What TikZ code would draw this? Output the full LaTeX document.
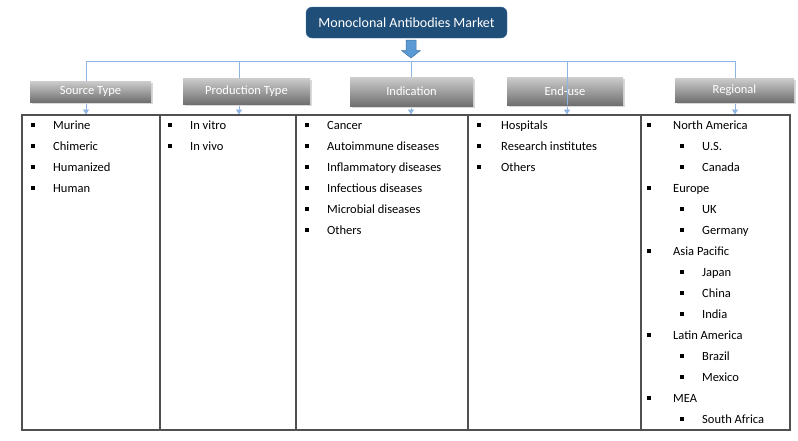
\documentclass[tikz,border=0pt]{standalone}
\usepackage{fontspec}
\setmainfont{Carlito}
\usetikzlibrary{arrows.meta}
\definecolor{titleblue}{RGB}{31,78,121}
\definecolor{arrowblue}{RGB}{91,155,213}
\definecolor{arrowedge}{RGB}{65,113,156}
\definecolor{linkblue}{RGB}{142,180,227}
\definecolor{gtop}{RGB}{205,205,205}
\definecolor{gbot}{RGB}{112,112,112}
\definecolor{tabline}{RGB}{80,80,80}
\tikzset{
  title/.style={draw=arrowedge, fill=titleblue, rounded corners=6pt, text=white, font=\fontsize{14}{16}\selectfont, minimum width=201pt, minimum height=31pt, inner sep=0pt},
  catbox/.style={top color=gtop, bottom color=gbot, draw=none, text=white, font=\fontsize{12.5}{14}\selectfont, inner sep=0pt},
  catshadow/.style={fill=black!15, draw=none},
  link/.style={draw=linkblue, line width=0.9pt},
  linkarrow/.style={link, -{Triangle[width=6pt,length=5pt]}},
  item/.style={anchor=base west, inner sep=0pt, font=\fontsize{12.5}{14}\selectfont},
  bul/.style={fill=black},
  tab/.style={draw=tabline, line width=1.4pt},
}
\begin{document}
\begin{tikzpicture}[x=1pt,y=-1pt]
\useasboundingbox (0,0) rectangle (798,440);
% title
\node[title] (title) at (406.5,22.5) {Monoclonal Antibodies Market};
% block arrow
\fill[arrowblue, draw=arrowedge, line width=0.5pt] (406,40) -- (416,40) -- (416,50.5) -- (420.5,50.5) -- (411,58) -- (401.5,50.5) -- (406,50.5) -- cycle;
% junction coordinates
\coordinate (j1) at (86,61);
\coordinate (j2) at (239,61);
\coordinate (j3) at (411,61);
\coordinate (j4) at (567,61);
\coordinate (j5) at (735,61);
\coordinate (t1) at (86,114.5);
\coordinate (t2) at (239,114.5);
\coordinate (t3) at (411,114.5);
\coordinate (t4) at (567,114.5);
\coordinate (t5) at (735,114.5);
\draw[link] (j1) -- (j5);
\foreach \k in {1,...,5} { \draw[linkarrow] (j\k) -- (t\k); }
% category boxes with shadows
\fill[catshadow] (32,83) rectangle (153,104);
\node[catbox, minimum width=121pt, minimum height=21pt] (src) at (90.5,91.5) {Source Type};
\fill[catshadow] (185,80) rectangle (312,106);
\node[catbox, minimum width=127pt, minimum height=26pt] (prod) at (246.5,91) {Production Type};
\fill[catshadow] (352,79) rectangle (475,108);
\node[catbox, minimum width=123pt, minimum height=29pt] (ind) at (411.5,91.5) {Indication};
\fill[catshadow] (509,79) rectangle (625,107);
\node[catbox, minimum width=116pt, minimum height=28pt] (end) at (565,91) {End-use};
\draw[link] (567,77) -- (567,105);
\fill[catshadow] (677,80) rectangle (796,104);
\node[catbox, minimum width=119pt, minimum height=24pt] (reg) at (734.5,90) {Regional};
% table
\draw[tab] (22,115) rectangle (790,430);
\foreach \x in {160,296,468,641} { \draw[tab] (\x,115) -- (\x,430); }
% items
\foreach \t [count=\i from 0] in {Murine,Chimeric,Humanized,Human} {
  \fill[bul] (30.5,122.5+21*\i) rectangle (34.5,126.5+21*\i);
  \node[item] (a\i) at (53,129+21*\i) {\t};
}
\foreach \t [count=\i from 0] in {In vitro,In vivo} {
  \fill[bul] (167.5,122.5+21*\i) rectangle (171.5,126.5+21*\i);
  \node[item] (b\i) at (190,129+21*\i) {\t};
}
\foreach \t [count=\i from 0] in {Cancer,Autoimmune diseases,Inflammatory diseases,Infectious diseases,Microbial diseases,Others} {
  \fill[bul] (304.5,122.5+21*\i) rectangle (308.5,126.5+21*\i);
  \node[item] (c\i) at (327,129+21*\i) {\t};
}
\foreach \t [count=\i from 0] in {Hospitals,Research institutes,Others} {
  \fill[bul] (476.5,122.5+21*\i) rectangle (480.5,126.5+21*\i);
  \node[item] (d\i) at (501,129+21*\i) {\t};
}
\foreach \t/\lv [count=\i from 0] in {North America/1,U.S./2,Canada/2,Europe/1,UK/2,Germany/2,Asia Pacific/1,Japan/2,China/2,India/2,Latin America/1,Brazil/2,Mexico/2,MEA/1,South Africa/2} {
  \ifnum\lv=1
    \fill[bul] (647,122.5+21*\i) rectangle (651,126.5+21*\i);
    \node[item] (e\i) at (673,129+21*\i) {\t};
  \else
    \fill[bul] (680,122.5+21*\i) rectangle (684,126.5+21*\i);
    \node[item] (e\i) at (702,129+21*\i) {\t};
  \fi
}
\end{tikzpicture}
\end{document}
